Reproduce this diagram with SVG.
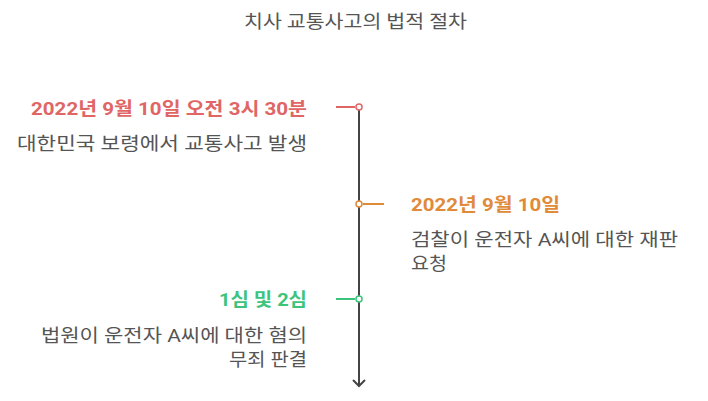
<svg xmlns="http://www.w3.org/2000/svg" width="708" height="401" viewBox="0 0 708 401">
<style>
text{font-family:Roboto,"Noto Sans CJK KR",sans-serif;font-size:18px}
.t{fill:#555555}
.h{font-weight:bold}
.b{fill:#555555}
.r{text-anchor:end}
.dot{fill:#ffffff;stroke-width:1.5}
</style>
<rect width="708" height="401" fill="#ffffff"/>
<text class="t" x="355.5" y="28" text-anchor="middle" textLength="223" lengthAdjust="spacingAndGlyphs">치사 교통사고의 법적 절차</text>
<g id="connectors">
<line x1="359" y1="107" x2="359" y2="386" stroke="#444444" stroke-width="2"/>
<polyline points="353,380 359,386 365,380" fill="none" stroke="#444444" stroke-width="2"/>
<line x1="336" y1="107" x2="355" y2="107" stroke="#e06666" stroke-width="2"/>
<line x1="363" y1="204" x2="384" y2="204" stroke="#e08b3a" stroke-width="2"/>
<line x1="336" y1="299" x2="355" y2="299" stroke="#3cc47c" stroke-width="2"/>
</g>
<g id="node1">
<circle class="dot" cx="359" cy="107" r="3" stroke="#e06666"/>
<text class="h r" x="307" y="115" fill="#e06666" textLength="276" lengthAdjust="spacingAndGlyphs">2022년 9월 10일 오전 3시 30분</text>
<text class="b r" x="307" y="150" textLength="290" lengthAdjust="spacingAndGlyphs">대한민국 보령에서 교통사고 발생</text>
</g>
<g id="node2">
<circle class="dot" cx="359" cy="204" r="3" stroke="#e08b3a"/>
<text class="h" x="411" y="211" fill="#e08b3a" textLength="149" lengthAdjust="spacingAndGlyphs">2022년 9월 10일</text>
<text class="b" x="411" y="246" textLength="267" lengthAdjust="spacingAndGlyphs">검찰이 운전자 A씨에 대한 재판</text>
<text class="b" x="411" y="270" textLength="36" lengthAdjust="spacingAndGlyphs">요청</text>
</g>
<g id="node3">
<circle class="dot" cx="359" cy="299" r="3" stroke="#3cc47c"/>
<text class="h r" x="307" y="306" fill="#3cc47c" textLength="88" lengthAdjust="spacingAndGlyphs">1심 및 2심</text>
<text class="b r" x="307" y="342" textLength="266" lengthAdjust="spacingAndGlyphs">법원이 운전자 A씨에 대한 혐의</text>
<text class="b r" x="307" y="366" textLength="78" lengthAdjust="spacingAndGlyphs">무죄 판결</text>
</g>
</svg>
